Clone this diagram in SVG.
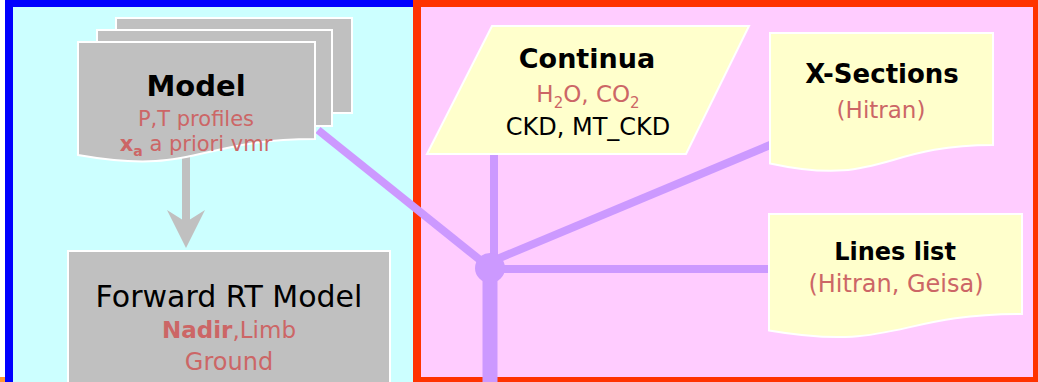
<svg xmlns="http://www.w3.org/2000/svg" width="1038" height="382" viewBox="0 0 1038 382">
<style>
.node{stroke:#FFFFFF;stroke-width:2}
.gray{fill:#C0C0C0}
.yel{fill:#FFFFCC}
.t{font-family:"DejaVu Sans","Liberation Sans",sans-serif;text-anchor:middle}
.h{font-weight:bold;fill:#000000}
.red{fill:#CC6666}
.blk{fill:#000000}
.conn{stroke:#CC99FF;fill:none}
</style>
<rect x="0" y="0" width="1038" height="382" fill="#FFFFFF"/>
<g id="left-panel">
<rect x="9" y="3" width="408" height="400" fill="#CCFFFF" stroke="#0000FF" stroke-width="8"/>
<rect x="0" y="377" width="5" height="5" fill="#FF9933"/>
</g>
<g id="right-panel">
<rect x="417" y="3" width="620" height="378" fill="#FFCCFF" stroke="#FF3300" stroke-width="8"/>
</g>
<g id="connectors">
<line class="conn" x1="186" y1="150" x2="186" y2="222" stroke="#C0C0C0" style="stroke:#C0C0C0" stroke-width="8"/>
<polygon points="167,210 186,222 205,210 186,248" fill="#C0C0C0"/>
<line class="conn" x1="318" y1="130" x2="490" y2="268" stroke-width="8"/>
<line class="conn" x1="494" y1="150" x2="494" y2="268" stroke-width="8"/>
<line class="conn" x1="490" y1="262" x2="775" y2="143" stroke-width="8"/>
<line class="conn" x1="490" y1="269" x2="775" y2="269" stroke-width="8"/>
<line class="conn" x1="490" y1="268" x2="490" y2="390" stroke-width="15"/>
<circle cx="490" cy="268" r="15" fill="#CC99FF"/>
</g>
<g id="model">
<rect class="node gray" x="116" y="18" width="236" height="95"/>
<rect class="node gray" x="97" y="30" width="235" height="96"/>
<path class="node gray" d="M78,42 H315 V139 C196.5,139 196.5,176 78,155 Z"/>
<text class="t h" x="196" y="96" font-size="29">Model</text>
<text class="t red" x="196" y="126" font-size="21">P,T profiles</text>
<text class="t red" x="196" y="151" font-size="21"><tspan font-weight="bold">x</tspan><tspan font-weight="bold" font-size="14" dy="5">a</tspan><tspan dy="-5"> a priori vmr</tspan></text>
</g>
<g id="forward-rt-model">
<rect class="node gray" x="68" y="251" width="322" height="140"/>
<text class="t blk" x="229" y="307" font-size="30">Forward RT Model</text>
<text class="t red" x="229" y="338" font-size="23"><tspan font-weight="bold">Nadir</tspan>,Limb</text>
<text class="t red" x="229" y="370" font-size="24">Ground</text>
</g>
<g id="continua">
<polygon class="node yel" points="492,26 749,26 686,154 427,154"/>
<text class="t h" x="587" y="68" font-size="27">Continua</text>
<text class="t red" x="588" y="102" font-size="23">H<tspan font-size="15" dy="6">2</tspan><tspan dy="-6">O, CO</tspan><tspan font-size="15" dy="6">2</tspan></text>
<text class="t blk" x="588" y="135" font-size="24">CKD, MT_CKD</text>
</g>
<g id="x-sections">
<path class="node yel" d="M770,33 H993 V145 C881.5,145 881.5,187.6 770,163.4 Z"/>
<text class="t h" x="882" y="83" font-size="26">X-Sections</text>
<text class="t red" x="881" y="118" font-size="23">(Hitran)</text>
</g>
<g id="lines-list">
<path class="node yel" d="M769,214 H1022 V314 C895.5,314 895.5,352.1 769,330.5 Z"/>
<text class="t h" x="895" y="260" font-size="24">Lines list</text>
<text class="t red" x="896" y="292" font-size="24">(Hitran, Geisa)</text>
</g>
</svg>
